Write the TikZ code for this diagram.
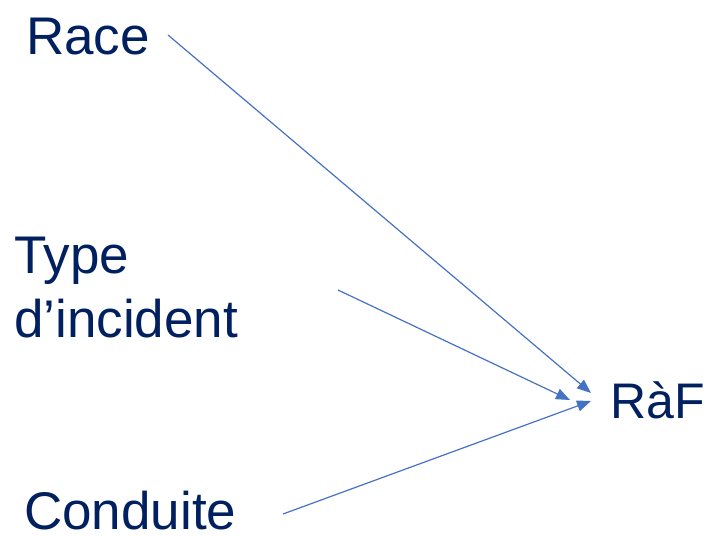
\documentclass[tikz,border=0pt]{standalone}
\usepackage{fontspec}
\setmainfont{Liberation Sans}
\usetikzlibrary{arrows.meta,calc}
\definecolor{navy}{RGB}{0,32,96}
\definecolor{arrowblue}{RGB}{68,114,196}
\begin{document}
\begin{tikzpicture}[x=1pt,y=-1pt,
  lbl/.style={anchor=base west,inner sep=0pt,text=navy,font=\fontsize{53}{64}\selectfont,align=left},
  conn/.style={draw=arrowblue,line width=1.2pt,-{Triangle[length=14pt,width=11pt]}}]
\useasboundingbox (0,0) rectangle (708,535);
\node[lbl] (race) at (26,54) {Race};
\node[lbl] (type) at (14,337) {Type\\d’incident};
\node[lbl] (cond) at (24,529) {Conduite};
\node[lbl,font=\fontsize{50}{60}\selectfont] (raf) at (610,418) {RàF};
\coordinate (s1) at (168,35);
\coordinate (s2) at (338,290);
\coordinate (s3) at (283,514);
\coordinate (e1) at (591,393);
\coordinate (e2) at (570,400);
\coordinate (e3) at (591,401);
\draw[conn] (s1) -- (e1);
\draw[conn] (s2) -- (e2);
\draw[conn] (s3) -- (e3);
\end{tikzpicture}
\end{document}
